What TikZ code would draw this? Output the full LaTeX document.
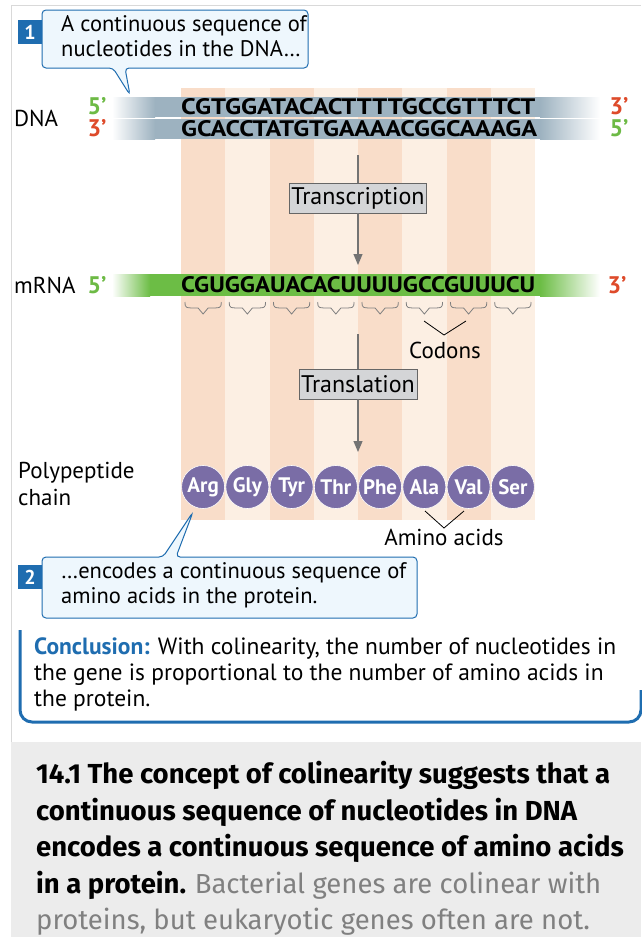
\documentclass[tikz,border=0pt]{standalone}
\usepackage{fontspec}
\setmainfont{PT Sans}
\newfontfamily\capfont{Fira Sans}
\usetikzlibrary{arrows.meta}
\definecolor{sdark}{HTML}{F9DDC9}
\definecolor{slight}{HTML}{FCEFE3}
\definecolor{dnac}{HTML}{9DB2C0}
\definecolor{mrnac}{HTML}{6CBD45}
\definecolor{pgreen}{HTML}{6DBA45}
\definecolor{pred}{HTML}{DE4A2A}
\definecolor{aac}{HTML}{7A6DA6}
\definecolor{bluec}{HTML}{1F6DB0}
\definecolor{callfill}{HTML}{EEF7FD}
\definecolor{capgray}{HTML}{ECECEC}
\definecolor{boxgray}{HTML}{D4D5D7}
\begin{document}
\begin{tikzpicture}[x=1pt,y=-1pt,
  lbl/.style={font=\fontsize{23}{26}\selectfont,inner sep=0,anchor=west},
  prime/.style={font=\bfseries\fontsize{24}{26}\selectfont,inner sep=0},
  seq/.style={inner sep=0},
  procbox/.style={draw=gray!80!black,fill=boxgray,font=\fontsize{24}{26}\selectfont,inner sep=2pt,minimum height=30pt},
  aa/.style={circle,fill=aac,draw=white,line width=0.6pt,minimum size=43pt,inner sep=0,text=white,font=\bfseries\fontsize{21}{22}\selectfont},
  call/.style={draw=bluec,line width=1pt,fill=callfill},
  num/.style={fill=bluec,text=white,font=\bfseries\fontsize{20}{20}\selectfont,minimum size=24pt,inner sep=0}]
\useasboundingbox (0,0) rectangle (641,937);
\fill[white] (0,0) rectangle (641,937);
% frame lines
\draw[gray!30,line width=1pt] (11,5) -- (641,5);
\draw[gray!30,line width=1pt] (11,5) -- (11,742);
\fill[capgray] (11,742) rectangle (641,937);
% stripes
\foreach \i in {0,...,7}{
  \pgfmathsetmacro\xa{181+44.25*\i}
  \pgfmathtruncatemacro\odd{mod(\i,2)}
  \ifnum\odd=0 \fill[sdark] (\xa,88) rectangle ++(44.25,432);
  \else \fill[slight] (\xa,88) rectangle ++(44.25,432); \fi
}
% DNA strands
\foreach \ya in {97,119}{
  \fill[left color=white,right color=dnac] (112,\ya) rectangle (155,\ya+20);
  \fill[dnac] (155,\ya) rectangle (540,\ya+20);
  \fill[left color=dnac,right color=white] (540,\ya) rectangle (600,\ya+20);
}
\node[seq,anchor=west] (top) at (181,107) {\resizebox{354pt}{16pt}{\bfseries CGTGGATACACTTTTGCCGTTTCT}};
\node[seq,anchor=west] (bot) at (181,129) {\resizebox{356pt}{16pt}{\bfseries GCACCTATGTGAAAACGGCAAAGA}};
\node[lbl] (dna) at (14,118) {DNA};
\node[prime,text=pgreen] (d5a) at (97,106) {5’};
\node[prime,text=pred] (d3a) at (97,128) {3’};
\node[prime,text=pred] (d3b) at (619,106) {3’};
\node[prime,text=pgreen] (d5b) at (619,128) {5’};
% mRNA
\fill[left color=white,right color=mrnac] (112,274) rectangle (150,296);
\fill[mrnac] (150,274) rectangle (540,296);
\fill[left color=mrnac,right color=white] (540,274) rectangle (600,296);
\node[seq,anchor=west] (mrna) at (181,285) {\resizebox{354pt}{16pt}{\bfseries CGUGGAUACACUUUUGCCGUUUCU}};
\node[lbl] (mlab) at (14,285) {mRNA};
\node[prime,text=pgreen] (m5) at (97,285) {5’};
\node[prime,text=pred] (m3) at (617,285) {3’};
% transcription
\coordinate (t1) at (358,155);
\coordinate (t2) at (358,265);
\node[procbox] (tr) at (358,198) {Transcription};
\draw[gray!90!black,line width=1.2pt] (t1) -- (tr.north);
\draw[gray!90!black,line width=1.2pt,-{Triangle[width=9pt,length=11pt]}] (tr.south) -- (t2);
% braces
\foreach \i in {0,...,7}{
  \pgfmathsetmacro\xa{181+44.25*\i+4}
  \pgfmathsetmacro\xb{181+44.25*\i+40.25}
  \pgfmathsetmacro\xm{181+44.25*\i+22.1}
  \draw[gray,line width=0.8pt] (\xa,302) .. controls (\xa,308) .. (\xm-5,308) -- (\xm,314) -- (\xm+5,308) .. controls (\xb,308) .. (\xb,302);
}
\coordinate (ca) at (424,321);
\coordinate (cb) at (444,335);
\coordinate (cc) at (466,321);
\draw[black,line width=0.8pt] (ca) -- (cb) -- (cc);
\node[lbl,anchor=center] (codons) at (445,350) {Codons};
% translation
\coordinate (l1) at (358,334);
\coordinate (l2) at (358,452);
\node[procbox] (tl) at (358,384) {Translation};
\draw[gray!90!black,line width=1.2pt] (l1) -- (tl.north);
\draw[gray!90!black,line width=1.2pt,-{Triangle[width=9pt,length=11pt]}] (tl.south) -- (l2);
% amino acids
\foreach \n [count=\i from 0] in {Arg,Gly,Tyr,Thr,Phe,Ala,Val,Ser}{
  \node[aa] (aa\i) at ({181+44.25*\i+22.1},487) {\n};
}
\node[lbl,align=left,anchor=north west,font=\fontsize{23}{27}\selectfont] (poly) at (18,462) {Polypeptide\\chain};
\coordinate (aa1) at (425,511);
\coordinate (aa2) at (444,528);
\coordinate (aa3) at (464,511);
\draw[black,line width=0.8pt] (aa1) -- (aa2) -- (aa3);
\node[lbl,anchor=center] (amino) at (444,537) {Amino acids};
% callout 1
\node[num] (n1) at (30,32) {1};
\draw[call,rounded corners=4pt] (42,10) -- (308,10) -- (308,68) -- (125,68) -- (130,95) -- (113,68) -- (42,68) -- cycle;
\node[lbl,align=left,anchor=north west,font=\fontsize{22.5}{25.5}\selectfont] (c1) at (61,15) {A continuous sequence of\\nucleotides in the DNA…};
% callout 2
\node[num] (n2) at (30,577) {2};
\draw[call,rounded corners=4pt] (42,557) -- (163,557) -- (193,512) -- (176,557) -- (417,557) -- (417,618) -- (42,618) -- cycle;
\node[lbl,align=left,anchor=north west,font=\fontsize{22.5}{25.5}\selectfont] (c2) at (61,562) {…encodes a continuous sequence of\\amino acids in the protein.};
% conclusion
\draw[bluec,line width=3pt,rounded corners=12pt] (20,630) -- (20,722) -- (641,722) -- (641,690);
\node[lbl,align=left,anchor=north west,font=\fontsize{23.5}{26}\selectfont] (concl) at (34,638) {\textcolor{bluec}{\bfseries Conclusion:} With colinearity, the number of nucleotides in\\the gene is proportional to the number of amino acids in\\the protein.};
% caption
\node[anchor=north west,inner sep=0,align=left,font=\capfont\fontsize{27.5}{36.5}\selectfont] (cap) at (36,761) {\bfseries 14.1 The concept of colinearity suggests that a\\\bfseries continuous sequence of nucleotides in DNA\\\bfseries encodes a continuous sequence of amino acids\\\bfseries in a protein. \mdseries\color{gray}Bacterial genes are colinear with\\\color{gray}proteins, but eukaryotic genes often are not.};
\end{tikzpicture}
\end{document}
